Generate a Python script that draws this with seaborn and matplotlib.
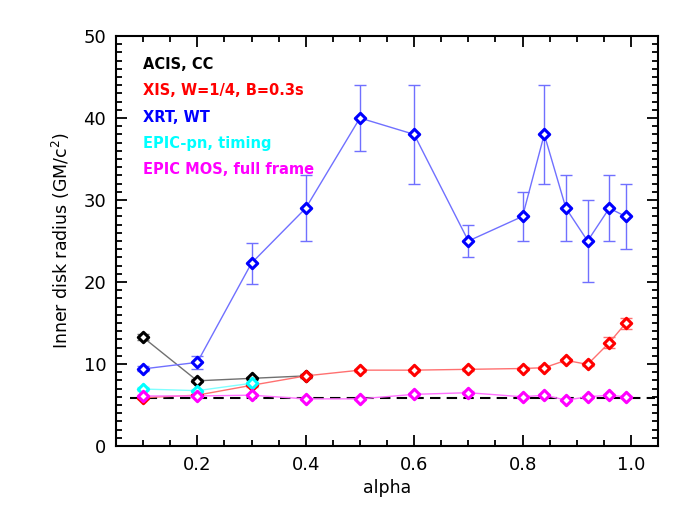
import numpy as np
import pandas as pd
import seaborn as sns
import matplotlib
matplotlib.use("Agg")
import matplotlib.pyplot as plt
from matplotlib.ticker import MultipleLocator

# data
acis_x = [0.1, 0.2, 0.3, 0.4]
acis_y = [13.25, 7.95, 8.25, 8.55]
acis_err = [0.35, 0.2, 0.2, 0.2]

xis_x = [0.1, 0.2, 0.3, 0.4, 0.5, 0.6, 0.7, 0.8, 0.84, 0.88, 0.92, 0.96, 0.99]
xis_y = [5.9, 6.2, 7.4, 8.55, 9.25, 9.25, 9.35, 9.45, 9.55, 10.45, 9.95, 12.6, 14.95]
xis_err = [0.2, 0.2, 0.2, 0.2, 0.2, 0.2, 0.2, 0.2, 0.2, 0.2, 0.2, 0.7, 0.7]

xrt_x = [0.1, 0.2, 0.3, 0.4, 0.5, 0.6, 0.7, 0.8, 0.84, 0.88, 0.92, 0.96, 0.99]
xrt_y = [9.4, 10.2, 22.3, 29.0, 40.0, 38.0, 25.0, 28.0, 38.0, 29.0, 25.0, 29.0, 28.0]
xrt_err = [0.3, 0.8, 2.5, 4.0, 4.0, 6.0, 2.0, 3.0, 6.0, 4.0, 5.0, 4.0, 4.0]

pn_x = [0.1, 0.2, 0.3]
pn_y = [6.95, 6.75, 7.65]
pn_err = [0.2, 0.2, 0.2]

mos_x = [0.1, 0.2, 0.3, 0.4, 0.5, 0.6, 0.7, 0.8, 0.84, 0.88, 0.92, 0.96, 0.99]
mos_y = [6.1, 6.1, 6.2, 5.75, 5.75, 6.3, 6.5, 6.0, 6.2, 5.6, 6.0, 6.2, 6.0]
mos_err = [0.15] * 13

ref_level = 5.9
ref_x = [0.075, 1.045]

sns.set_style("ticks")
plt.rcParams['font.family'] = ['DejaVu Sans']
plt.rcParams['text.color'] = 'black'
plt.rcParams['axes.labelcolor'] = 'black'
plt.rcParams['xtick.color'] = 'black'
plt.rcParams['ytick.color'] = 'black'
plt.rcParams['axes.edgecolor'] = 'black'

fig = plt.figure(figsize=(6.92, 5.2), dpi=100)
ax = fig.add_axes([0.1676, 0.1423, 0.7834, 0.7885])

series = [
    ("ACIS, CC", acis_x, acis_y, acis_err, "black", "#707070"),
    ("XIS, W=1/4, B=0.3s", xis_x, xis_y, xis_err, "red", "#ff7070"),
    ("XRT, WT", xrt_x, xrt_y, xrt_err, "blue", "#7070ff"),
    ("EPIC-pn, timing", pn_x, pn_y, pn_err, "cyan", "#80ffff"),
    ("EPIC MOS, full frame", mos_x, mos_y, mos_err, "magenta", "#ff70ff"),
]

for name, xs, ys, errs, col, light in series:
    df = pd.DataFrame({"alpha": xs, "r": ys})
    ax.errorbar(xs, ys, yerr=errs, fmt="none", ecolor=light, elinewidth=1,
                capsize=4, capthick=1, zorder=2)
    sns.lineplot(data=df, x="alpha", y="r", ax=ax, color=light, linewidth=1,
                 estimator=None, sort=False, zorder=3)
    sns.scatterplot(data=df, x="alpha", y="r", ax=ax, marker="D", s=28,
                    facecolor="white", edgecolor=col, linewidth=2.2, zorder=4)

ax.plot(ref_x, [ref_level, ref_level], color="black", linestyle=(0, (5, 3)),
        linewidth=1.5, zorder=1)

ax.set_xlim(0.05, 1.05)
ax.set_ylim(0, 50)
ax.xaxis.set_major_locator(MultipleLocator(0.2))
ax.xaxis.set_minor_locator(MultipleLocator(0.05))
ax.yaxis.set_major_locator(MultipleLocator(10))
ax.yaxis.set_minor_locator(MultipleLocator(1))
ax.set_xticks([0.2, 0.4, 0.6, 0.8, 1.0])
ax.set_xticklabels(["0.2", "0.4", "0.6", "0.8", "1.0"])
ax.tick_params(which="both", direction="in", top=True, right=True, labelsize=13, width=1.3)
ax.tick_params(which="major", length=8, pad=7)
ax.tick_params(which="minor", length=4)
for sp in ax.spines.values():
    sp.set_linewidth(1.5)

ax.set_xlabel("alpha", fontsize=12.5)
ax.set_ylabel("Inner disk radius (GM/c$^2$)", fontsize=12.5, labelpad=8)

for i, (name, xs, ys, errs, col, light) in enumerate(series):
    ax.text(0.05, 0.93 - i * 0.064, name, color=col, fontsize=10.5,
            fontweight="bold", transform=ax.transAxes, va="center", ha="left")

fig.savefig("out.png", dpi=100)
